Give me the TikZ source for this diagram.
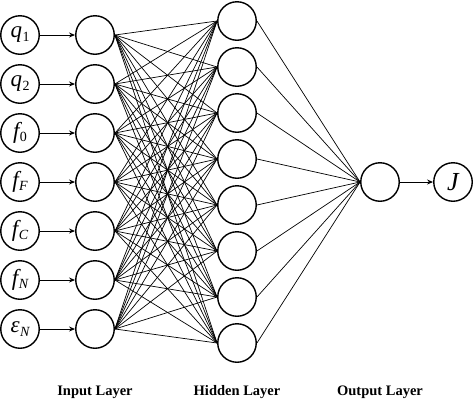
\documentclass[tikz,border=0pt]{standalone}
\usepackage{fontspec}
\setmainfont{Liberation Serif}
\usetikzlibrary{arrows.meta}
\newcommand{\lbl}[2]{{\fontsize{23}{23}\selectfont\itshape #1}\kern0.5pt\raisebox{-0.32em}{\fontsize{14}{14}\selectfont #2}}
\begin{document}
\begin{tikzpicture}[x=1pt,y=-1pt,
  neuron/.style={circle,draw,line width=1.4pt,minimum size=38.5pt,inner sep=0pt},
  conn/.style={line width=0.7pt},
  arr/.style={line width=1pt,-{Stealth[length=6pt,width=5pt]}},
  layerlbl/.style={font=\fontsize{14.5}{14.5}\selectfont\bfseries}]
\useasboundingbox (0,0) rectangle (474,400);
% input labels
\node[neuron] (l1) at (20,35) {\lbl{q}{1}};
\node[neuron] (l2) at (20,84) {\lbl{q}{2}};
\node[neuron] (l3) at (20,133) {\lbl{f}{0}};
\node[neuron] (l4) at (20,182) {\lbl{f}{\itshape F}};
\node[neuron] (l5) at (20,231) {\lbl{f}{\itshape C}};
\node[neuron] (l6) at (20,280) {\lbl{f}{\itshape N}};
\node[neuron] (l7) at (20,329) {\lbl{ε}{\itshape N}};
% input nodes
\foreach \i/\y in {1/35,2/84,3/133,4/182,5/231,6/280,7/329}{
  \node[neuron] (i\i) at (95,\y) {};
  \draw[arr] (l\i) -- (i\i);
}
% hidden nodes
\foreach \j/\y in {1/21,2/67,3/113,4/159,5/205,6/251,7/297,8/343}{
  \node[neuron] (h\j) at (237,\y) {};
}
% output
\node[neuron] (o) at (380,182) {};
\node[neuron] (J) at (453,182) {{\fontsize{26}{26}\selectfont\itshape J}};
\draw[arr] (o) -- (J);
% connections
\foreach \i in {1,...,7}{
  \foreach \j in {1,...,8}{
    \draw[conn] (i\i.east) -- (h\j.west);
  }
}
\foreach \j in {1,...,8}{
  \draw[conn] (h\j.east) -- (o.west);
}
% layer labels
\node[layerlbl] (t1) at (95,392) {Input Layer};
\node[layerlbl] (t2) at (237,392) {Hidden Layer};
\node[layerlbl] (t3) at (380,392) {Output Layer};
\end{tikzpicture}
\end{document}
